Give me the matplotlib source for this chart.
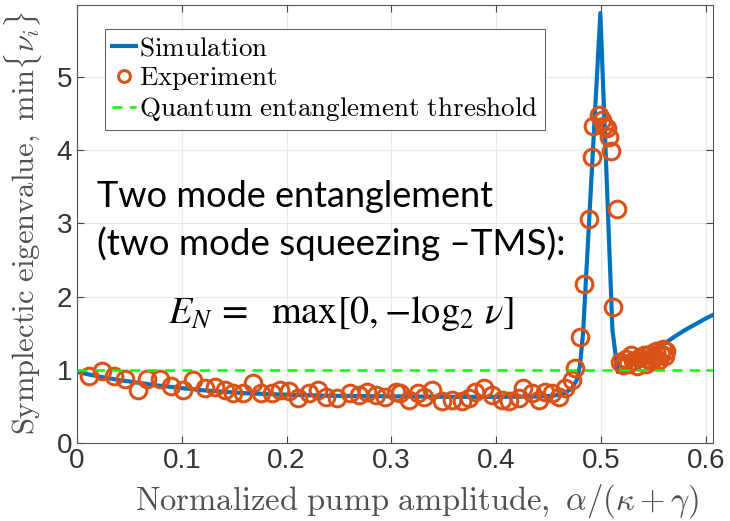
import matplotlib
matplotlib.use("Agg")
import matplotlib.pyplot as plt
from matplotlib.ticker import FuncFormatter

# Simulated minimum symplectic eigenvalue versus normalized pump amplitude
sim_x = [0.0, 0.02, 0.04, 0.06, 0.08, 0.10, 0.12, 0.14, 0.16, 0.18, 0.20, 0.24,
         0.28, 0.32, 0.36, 0.40, 0.44, 0.455, 0.465, 0.472, 0.477, 0.480, 0.483,
         0.4995, 0.511, 0.516, 0.520, 0.53, 0.54, 0.55, 0.56, 0.57, 0.58, 0.59,
         0.60, 0.607]
sim_y = [0.97, 0.91, 0.86, 0.82, 0.78, 0.75, 0.72, 0.70, 0.68, 0.67, 0.66, 0.645,
         0.64, 0.635, 0.63, 0.63, 0.635, 0.645, 0.68, 0.74, 0.86, 1.05, 1.50,
         5.87, 1.55, 0.97, 0.98, 1.07, 1.16, 1.25, 1.35, 1.45, 1.54, 1.62,
         1.70, 1.75]

# Measured values
exp_x = [0.011, 0.024, 0.035, 0.046, 0.058, 0.067, 0.079, 0.090, 0.101, 0.111,
         0.122, 0.132, 0.141, 0.149, 0.158, 0.168, 0.176, 0.186, 0.194, 0.202,
         0.211, 0.221, 0.230, 0.238, 0.248, 0.261, 0.269, 0.277, 0.285, 0.294,
         0.304, 0.308, 0.317, 0.325, 0.331, 0.339, 0.348, 0.358, 0.367, 0.374,
         0.380, 0.388, 0.396, 0.406, 0.412, 0.422, 0.426, 0.434, 0.441, 0.447,
         0.453, 0.460, 0.466, 0.4725, 0.4756, 0.4805, 0.4836, 0.4884, 0.4916,
         0.4920, 0.498, 0.501, 0.503, 0.506, 0.5075, 0.510, 0.515, 0.512,
         0.518, 0.521, 0.524, 0.526, 0.529, 0.531, 0.534, 0.536, 0.539, 0.541,
         0.543, 0.545, 0.547, 0.549, 0.551, 0.553, 0.555, 0.557, 0.559, 0.561,
         0.562]
exp_y = [0.91, 0.98, 0.92, 0.87, 0.72, 0.88, 0.87, 0.78, 0.73, 0.86,
         0.75, 0.77, 0.73, 0.68, 0.68, 0.82, 0.68, 0.68, 0.72, 0.71,
         0.61, 0.68, 0.72, 0.63, 0.61, 0.68, 0.66, 0.70, 0.66, 0.63,
         0.70, 0.68, 0.59, 0.68, 0.63, 0.72, 0.57, 0.59, 0.57, 0.61,
         0.70, 0.75, 0.66, 0.59, 0.57, 0.61, 0.75, 0.68, 0.59, 0.70,
         0.68, 0.63, 0.75, 0.86, 1.02, 1.45, 2.17, 3.06, 3.91,
         4.33, 4.48, 4.41, 4.33, 4.30, 4.18, 3.99, 3.19, 1.86,
         1.10, 1.06, 1.15, 1.08, 1.20, 1.12, 1.05, 1.16, 1.10, 1.20,
         1.08, 1.15, 1.22, 1.12, 1.18, 1.25, 1.14, 1.22, 1.28, 1.19,
         1.25]

threshold = 1.0
x_ticks = [0, 0.1, 0.2, 0.3, 0.4, 0.5, 0.6]
y_ticks = [0, 1, 2, 3, 4, 5]

plt.rcParams["mathtext.fontset"] = "cm"

fig = plt.figure(figsize=(7.3, 5.21), dpi=100)
ax = fig.add_axes([0.1055, 0.1497, 0.8712, 0.8405])

ax.plot(sim_x, sim_y, color="#0072BD", lw=3.0, label=r"$\mathrm{Simulation}$", zorder=3)
ax.plot(exp_x, exp_y, ls="none", marker="o", ms=12, mfc="none", mec="#D95319",
        mew=2.2, label=r"$\mathrm{Experiment}$", zorder=4)
ax.axhline(threshold, color="#00FF00", lw=1.8, ls=(0, (4, 3)),
           label=r"$\mathrm{Quantum\ entanglement\ threshold}$", zorder=5)

ax.set_xlim(0, 0.607)
ax.set_ylim(0, 5.98)
ax.set_xticks(x_ticks)
ax.set_yticks(y_ticks)
ax.xaxis.set_major_formatter(FuncFormatter(lambda v, p: f"{v:g}"))
ax.grid(True, color="#e8e8e8", lw=0.8)
ax.set_axisbelow(True)
ax.tick_params(direction="in", top=True, right=True, length=5, width=0.8,
               color="#444444", labelcolor="#333333", labelsize=20)
for lab in ax.get_xticklabels() + ax.get_yticklabels():
    lab.set_family("Liberation Sans")
for s in ax.spines.values():
    s.set_color("#555555")
    s.set_linewidth(0.8)

ax.set_xlabel(r"$\mathrm{Normalized\ pump\ amplitude,}\ \alpha/(\kappa+\gamma)$",
              fontsize=23.5, color="#505050")
ax.xaxis.set_label_coords(0.535, -0.088)
ax.set_ylabel(r"$\mathrm{Symplectic\ eigenvalue,\ min}\{\nu_i\}$",
              fontsize=22, color="#505050")
ax.yaxis.set_label_coords(-0.052, 0.502)

leg = ax.legend(loc="upper left", bbox_to_anchor=(0.044, 0.945), fontsize=19.5,
                handlelength=0.9, handletextpad=0.1, labelspacing=0.12,
                borderpad=0.25, borderaxespad=0, fancybox=False, framealpha=1,
                edgecolor="#666666")
leg.get_frame().set_linewidth(0.8)
for h in leg.legend_handles:
    if h.get_marker() == "o":
        h.set_markersize(8.5)

ax.text(0.031, 0.539, "Two mode entanglement", transform=ax.transAxes,
        fontsize=26, family="Lato", va="baseline", ha="left", color="black")
ax.text(0.031, 0.429, "(two mode squeezing \u2013TMS):", transform=ax.transAxes,
        fontsize=26.5, family="Lato", va="baseline", ha="left", color="black")
ax.text(0.143, 0.274, r"$E_N\,=\ \ \mathrm{max}[0,{-}\log_2\,\nu]$", transform=ax.transAxes,
        fontsize=27.5, math_fontfamily="stix", va="baseline", ha="left", color="black")

fig.savefig("out.png", dpi=100)
